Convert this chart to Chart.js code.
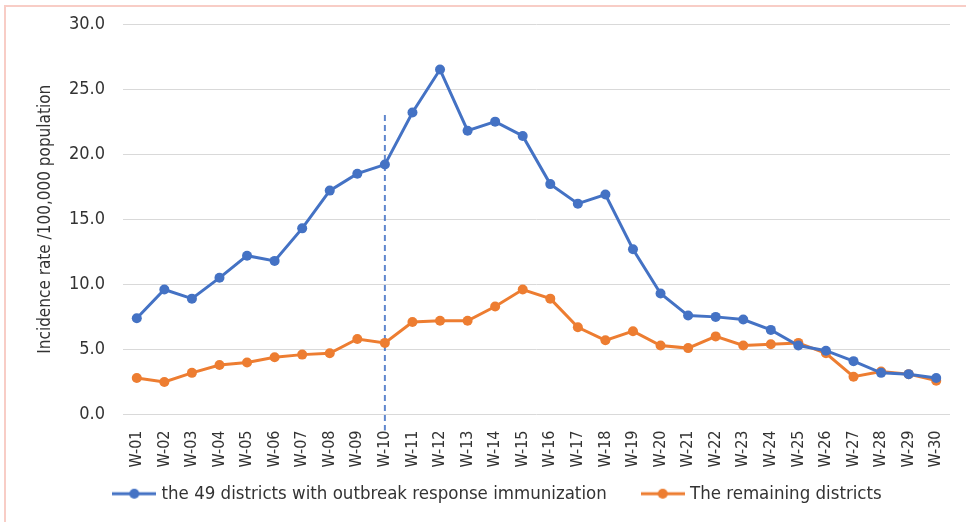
<!DOCTYPE html>
<html>
<head>
<meta charset="utf-8">
<script src="https://cdn.jsdelivr.net/npm/chart.js@4.4.1/dist/chart.umd.min.js"></script>
<style>
  html, body { margin: 0; padding: 0; background: #fff; }
  #wrap { position: relative; width: 966px; height: 522px; }
  #frame {
    position: absolute; left: 4px; top: 5px; right: 0; bottom: 0;
    border-top: 2px solid #f8cdc6; border-left: 2px solid #f8cdc6;
    pointer-events: none;
  }
</style>
</head>
<body>
<div id="wrap">
  <canvas id="incidenceChart" width="966" height="522"></canvas>
  <div id="frame"></div>
</div>
<script>
const weeks = [
  "W-01", "W-02", "W-03", "W-04", "W-05", "W-06", "W-07", "W-08", "W-09", "W-10",
  "W-11", "W-12", "W-13", "W-14", "W-15", "W-16", "W-17", "W-18", "W-19", "W-20",
  "W-21", "W-22", "W-23", "W-24", "W-25", "W-26", "W-27", "W-28", "W-29", "W-30",
];

// incidence per 100,000
const responseDistricts = [
  7.4, 9.6, 8.9, 10.5, 12.2, 11.8, 14.3, 17.2, 18.5, 19.2,
  23.2, 26.5, 21.8, 22.5, 21.4, 17.7, 16.2, 16.9, 12.7, 9.3,
  7.6, 7.5, 7.3, 6.5, 5.3, 4.9, 4.1, 3.2, 3.1, 2.8,
];
const remainingDistricts = [
  2.8, 2.5, 3.2, 3.8, 4.0, 4.4, 4.6, 4.7, 5.8, 5.5,
  7.1, 7.2, 7.2, 8.3, 9.6, 8.9, 6.7, 5.7, 6.4, 5.3,
  5.1, 6.0, 5.3, 5.4, 5.5, 4.7, 2.9, 3.3, 3.1, 2.6,
];

const seriesNames = [
  "the 49 districts with outbreak response immunization",
  "The remaining districts",
];
const seriesColors = ["#4472C4", "#ED7D31"];

const yMin = 0;
const yMax = 30;
const yStep = 5;

// dashed marker at the start of the campaign
const markerWeek = "W-10";
const markerTop = 23;

const FONT = "'Liberation Sans Narrow', 'DejaVu Sans Condensed', sans-serif";
const TEXT = "#333333";

function legendMarker(color) {
  const c = document.createElement("canvas");
  c.width = 44;
  c.height = 12;
  const g = c.getContext("2d");
  g.strokeStyle = color;
  g.lineWidth = 3;
  g.beginPath();
  g.moveTo(0, 6);
  g.lineTo(44, 6);
  g.stroke();
  g.fillStyle = color;
  g.beginPath();
  g.arc(22, 6, 5, 0, Math.PI * 2);
  g.fill();
  return c;
}
const markers = seriesColors.map(legendMarker);

const markerLine = {
  id: "markerLine",
  beforeDatasetsDraw(chart) {
    const { ctx, scales: { x, y } } = chart;
    const px = x.getPixelForValue(weeks.indexOf(markerWeek));
    ctx.save();
    ctx.strokeStyle = "rgba(68, 114, 196, 0.85)";
    ctx.lineWidth = 2;
    ctx.setLineDash([6, 4]);
    ctx.beginPath();
    ctx.moveTo(px, y.getPixelForValue(markerTop));
    ctx.lineTo(px, y.bottom + 16);
    ctx.stroke();
    ctx.restore();
  },
};

// the x axis box is kept short so the legend sits close; let the
// rotated week labels draw past it instead of being clipped
const tickRoom = {
  id: "tickRoom",
  afterLayout(chart) {
    chart.scales.x.bottom = chart.height;
  },
};

function makeDataset(label, data, color) {
  return {
    label: label,
    data: data,
    borderColor: color,
    backgroundColor: color,
    borderWidth: 3,
    pointRadius: 5,
    pointHoverRadius: 6,
    pointBorderWidth: 0,
    tension: 0,
  };
}

const ctx = document.getElementById("incidenceChart");

new Chart(ctx, {
  type: "line",
  data: {
    labels: weeks,
    datasets: [
      makeDataset(seriesNames[0], responseDistricts, seriesColors[0]),
      makeDataset(seriesNames[1], remainingDistricts, seriesColors[1]),
    ],
  },
  options: {
    responsive: false,
    animation: false,
    layout: {
      padding: { top: 24, left: 48, right: 16, bottom: 9 },
    },
    plugins: {
      legend: {
        position: "bottom",
        labels: {
          usePointStyle: true,
          pointStyleWidth: 36,
          padding: 38,
          color: TEXT,
          font: { family: FONT, size: 18.5 },
          generateLabels: function (chart) {
            const items = Chart.defaults.plugins.legend.labels.generateLabels(chart);
            items.forEach(function (item, i) {
              item.pointStyle = markers[i];
            });
            return items;
          },
        },
      },
      tooltip: { enabled: false },
    },
    scales: {
      x: {
        offset: true,
        grid: { display: false },
        border: { display: false },
        afterFit: function (scale) {
          scale.height = 32;
        },
        ticks: {
          color: TEXT,
          font: { family: FONT, size: 16 },
          minRotation: 90,
          maxRotation: 90,
          autoSkip: false,
          padding: 8,
        },
      },
      y: {
        min: yMin,
        max: yMax,
        border: { display: false },
        grid: { color: "#d9d9d9", lineWidth: 1, drawTicks: false },
        afterFit: function (scale) {
          scale.width = 75;
          scale.paddingTop = 0;
        },
        ticks: {
          stepSize: yStep,
          color: TEXT,
          padding: 18,
          font: { family: FONT, size: 18 },
          callback: function (v) {
            return v.toFixed(1);
          },
        },
        title: {
          display: true,
          text: "Incidence rate /100,000 population",
          color: TEXT,
          font: { family: FONT, size: 17 },
          padding: { top: -13, bottom: 0 },
        },
      },
    },
  },
  plugins: [markerLine, tickRoom],
});
</script>
</body>
</html>
